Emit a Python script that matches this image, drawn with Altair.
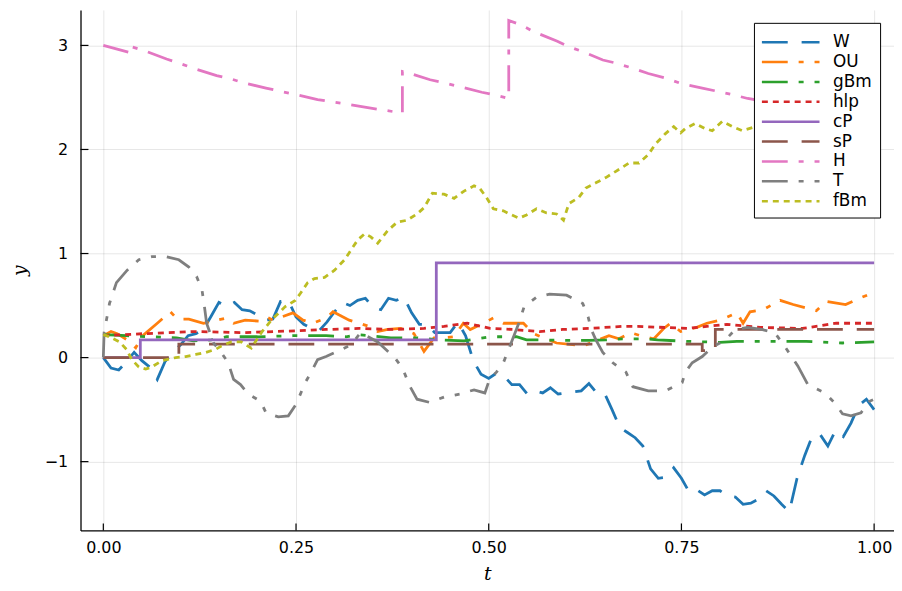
import altair as alt
import pandas as pd

# ---------------- data ----------------
W_t = [i / 100 for i in range(101)]
W_y = [0.0, -0.10, -0.12, -0.04, 0.05, -0.03, -0.09, -0.21, -0.04, 0.05,
       0.12, 0.21, 0.23, 0.27, 0.40, 0.53, 0.49, 0.53, 0.46, 0.45,
       0.41, 0.36, 0.37, 0.54, 0.55, 0.39, 0.32, 0.28, 0.26, 0.34,
       0.44, 0.53, 0.50, 0.55, 0.57, 0.48, 0.46, 0.57, 0.55, 0.58,
       0.43, 0.32, 0.32, 0.24, 0.24, 0.24, 0.34, 0.21, -0.03, -0.16,
       -0.20, -0.15, -0.18, -0.26, -0.26, -0.35, -0.32, -0.34, -0.29, -0.35,
       -0.34, -0.33, -0.32, -0.25, -0.34, -0.34, -0.50, -0.67, -0.72, -0.77,
       -0.85, -1.07, -1.16, -1.15, -1.06, -1.16, -1.29, -1.27, -1.32, -1.28,
       -1.28, -1.33, -1.34, -1.41, -1.40, -1.36, -1.28, -1.33, -1.41, -1.48,
       -1.16, -0.94, -0.75, -0.74, -0.85, -0.70, -0.76, -0.63, -0.46, -0.40,
       -0.50]

OU_t = [0, 0.01, 0.018, 0.031, 0.042, 0.051, 0.07, 0.087, 0.096, 0.111,
        0.13, 0.16, 0.169, 0.184, 0.203, 0.212, 0.22, 0.246, 0.259, 0.272,
        0.289, 0.298, 0.319, 0.332, 0.345, 0.356, 0.369, 0.386, 0.403, 0.416,
        0.429, 0.442, 0.455, 0.467, 0.476, 0.493, 0.506, 0.519, 0.545, 0.558,
        0.571, 0.588, 0.609, 0.622, 0.639, 0.656, 0.669, 0.684, 0.697, 0.714,
        0.727, 0.736, 0.749, 0.77, 0.783, 0.8, 0.822, 0.83, 0.839, 0.856,
        0.878, 0.895, 0.925, 0.938, 0.963, 0.981, 0.991, 1.0]
OU_y = [0.21, 0.25, 0.23, 0.17, 0.095, 0.21, 0.33, 0.44, 0.37, 0.37,
        0.33, 0.38, 0.33, 0.36, 0.35, 0.39, 0.36, 0.43, 0.36, 0.33,
        0.38, 0.44, 0.36, 0.33, 0.30, 0.25, 0.27, 0.28, 0.23, 0.06,
        0.19, 0.19, 0.20, 0.33, 0.27, 0.33, 0.38, 0.33, 0.33, 0.23,
        0.19, 0.14, 0.125, 0.11, 0.16, 0.21, 0.18, 0.24, 0.21, 0.18,
        0.28, 0.33, 0.25, 0.29, 0.33, 0.36, 0.43, 0.33, 0.44, 0.46,
        0.55, 0.51, 0.45, 0.54, 0.51, 0.57, 0.60, 0.58]

gBm_t = [0, 0.03, 0.06, 0.095, 0.117, 0.14, 0.16, 0.2, 0.246, 0.289,
         0.315, 0.33, 0.373, 0.407, 0.437, 0.468, 0.485, 0.502, 0.536, 0.549,
         0.571, 0.6, 0.63, 0.652, 0.674, 0.706, 0.719, 0.758, 0.8, 0.822,
         0.874, 0.912, 0.929, 0.959, 1.0]
gBm_y = [0.22, 0.21, 0.20, 0.19, 0.16, 0.17, 0.20, 0.20, 0.21, 0.21,
         0.20, 0.22, 0.19, 0.19, 0.17, 0.16, 0.18, 0.20, 0.20, 0.17,
         0.17, 0.165, 0.165, 0.17, 0.18, 0.18, 0.17, 0.156, 0.146, 0.156,
         0.156, 0.156, 0.15, 0.14, 0.15]

hlp_t = [0, 0.053, 0.117, 0.182, 0.224, 0.289, 0.332, 0.373, 0.416, 0.442,
         0.472, 0.502, 0.532, 0.566, 0.596, 0.63, 0.674, 0.693, 0.758, 0.809,
         0.852, 0.907, 0.951, 1.0]
hlp_y = [0.21, 0.23, 0.25, 0.24, 0.25, 0.27, 0.28, 0.27, 0.28, 0.30,
         0.33, 0.28, 0.27, 0.25, 0.27, 0.28, 0.30, 0.30, 0.28, 0.32,
         0.29, 0.28, 0.33, 0.33]

cP_t = [0, 0.048, 0.048, 0.432, 0.432, 1.0]
cP_y = [0, 0, 0.17, 0.17, 0.91, 0.91]

sP_t = [0, 0.098, 0.098, 0.777, 0.777, 0.794, 0.794, 1.0]
sP_y = [0, 0, 0.13, 0.13, 0.067, 0.067, 0.27, 0.27]

H_t = [0, 0.035, 0.035, 0.053, 0.082, 0.098, 0.117, 0.147, 0.165, 0.182,
       0.211, 0.229, 0.249, 0.278, 0.295, 0.313, 0.345, 0.362, 0.388, 0.388,
       0.394, 0.424, 0.442, 0.459, 0.491, 0.51, 0.526, 0.526, 0.541, 0.559,
       0.589, 0.603, 0.622, 0.648, 0.665, 0.687, 0.707, 0.732, 0.751, 0.777,
       0.796, 0.82, 0.836, 0.9, 0.95, 1.0]
H_y = [3.0, 2.93, 2.99, 2.95, 2.87, 2.83, 2.78, 2.71, 2.68, 2.64,
       2.59, 2.56, 2.53, 2.48, 2.46, 2.44, 2.40, 2.38, 2.35, 2.75,
       2.74, 2.67, 2.64, 2.61, 2.55, 2.52, 2.49, 3.24, 3.20, 3.13,
       3.04, 2.99, 2.94, 2.86, 2.83, 2.78, 2.73, 2.68, 2.63, 2.59,
       2.56, 2.52, 2.49, 2.41, 2.35, 2.30]

T_t = [0, 0.001, 0.008, 0.017, 0.031, 0.046, 0.063, 0.081, 0.098, 0.111,
       0.121, 0.128, 0.131, 0.134, 0.143, 0.152, 0.162, 0.169, 0.178, 0.188,
       0.204, 0.211, 0.227, 0.240, 0.250, 0.262, 0.269, 0.278, 0.289, 0.304,
       0.321, 0.334, 0.356, 0.378, 0.388, 0.398, 0.407, 0.423, 0.442, 0.463,
       0.481, 0.495, 0.501, 0.510, 0.519, 0.527, 0.539, 0.546, 0.562, 0.579,
       0.601, 0.622, 0.629, 0.633, 0.639, 0.648, 0.661, 0.678, 0.687, 0.707,
       0.729, 0.751, 0.755, 0.764, 0.777, 0.790, 0.807, 0.820, 0.836, 0.854,
       0.871, 0.881, 0.893, 0.901, 0.914, 0.936, 0.948, 0.959, 0.970, 0.983,
       0.994, 1.0]
T_y = [0, 0.24, 0.52, 0.72, 0.84, 0.94, 0.97, 0.97, 0.94, 0.87,
       0.78, 0.65, 0.50, 0.33, 0.14, 0.06, -0.05, -0.21, -0.26, -0.35,
       -0.42, -0.53, -0.57, -0.56, -0.45, -0.24, -0.15, -0.02, 0.01, 0.06,
       0.12, 0.24, 0.15, 0.0, -0.10, -0.28, -0.40, -0.43, -0.38, -0.35,
       -0.31, -0.34, -0.21, -0.14, -0.05, 0.10, 0.33, 0.49, 0.58, 0.61,
       0.60, 0.52, 0.39, 0.27, 0.17, 0.05, -0.05, -0.14, -0.28, -0.32,
       -0.32, -0.24, -0.14, -0.05, 0.01, 0.10, 0.17, 0.27, 0.29, 0.27,
       0.24, 0.14, 0.01, -0.08, -0.26, -0.34, -0.43, -0.54, -0.56, -0.53,
       -0.42, -0.40]

fBm_t = [0, 0.008, 0.021, 0.030, 0.037, 0.046, 0.055, 0.063, 0.076, 0.094,
         0.107, 0.120, 0.133, 0.146, 0.153, 0.166, 0.179, 0.192, 0.205, 0.218,
         0.236, 0.249, 0.256, 0.265, 0.274, 0.287, 0.300, 0.313, 0.321, 0.330,
         0.339, 0.347, 0.356, 0.369, 0.381, 0.394, 0.407, 0.416, 0.427, 0.442,
         0.455, 0.468, 0.481, 0.488, 0.497, 0.506, 0.519, 0.527, 0.539, 0.549,
         0.562, 0.575, 0.588, 0.597, 0.604, 0.617, 0.626, 0.639, 0.652, 0.665,
         0.682, 0.695, 0.707, 0.716, 0.729, 0.740, 0.749, 0.755, 0.768, 0.781,
         0.790, 0.803, 0.816, 0.829, 0.86, 0.9, 0.95, 1.0]
fBm_y = [0.22, 0.20, 0.15, 0.08, -0.02, -0.09, -0.11, -0.09, -0.03, 0.0,
         0.01, 0.03, 0.05, 0.08, 0.11, 0.15, 0.15, 0.09, 0.24, 0.36,
         0.49, 0.55, 0.62, 0.72, 0.76, 0.77, 0.84, 0.94, 1.03, 1.13,
         1.19, 1.16, 1.10, 1.22, 1.30, 1.32, 1.38, 1.44, 1.58, 1.57,
         1.53, 1.60, 1.65, 1.63, 1.54, 1.43, 1.41, 1.38, 1.34, 1.37,
         1.43, 1.39, 1.38, 1.32, 1.48, 1.54, 1.63, 1.68, 1.73, 1.79,
         1.87, 1.87, 1.95, 2.05, 2.15, 2.22, 2.16, 2.20, 2.25, 2.20,
         2.18, 2.27, 2.22, 2.18, 2.25, 2.32, 2.28, 2.35]

names = ["W", "OU", "gBm", "hlp", "cP", "sP", "H", "T", "fBm"]
colors = ["#1f77b4", "#ff7f0e", "#2ca02c", "#d62728", "#9467bd",
          "#8c564b", "#e377c2", "#7f7f7f", "#bcbd22"]
dashes = [[26, 14], [26, 11, 5, 11], [26, 11, 5, 11, 5, 11], [6, 5], [1, 0],
          [26, 14], [26, 11, 5, 11], [26, 11, 5, 11, 5, 11], [6, 5]]

x_ticks = [0, 0.25, 0.5, 0.75, 1.0]
y_ticks = [-1, 0, 1, 2, 3]

series = [("W", W_t, W_y), ("OU", OU_t, OU_y), ("gBm", gBm_t, gBm_y),
          ("hlp", hlp_t, hlp_y), ("cP", cP_t, cP_y), ("sP", sP_t, sP_y),
          ("H", H_t, H_y), ("T", T_t, T_y), ("fBm", fBm_t, fBm_y)]

rows = []
for name, ts, ys in series:
    for i, (t, y) in enumerate(zip(ts, ys)):
        rows.append({"series": name, "t": t, "y": y, "i": i})
df = pd.DataFrame(rows)

W_PLOT, H_PLOT = 819, 524

xscale = alt.Scale(domain=[-0.0296, 1.0258], nice=False, zero=False)
yscale = alt.Scale(domain=[-1.661, 3.341], nice=False, zero=False)

common_axis = dict(
    ticks=False, tickSize=0, grid=True, gridColor="black", gridOpacity=0.1,
    gridWidth=1, domainColor="black", domainWidth=1.3,
    labelFont="DejaVu Sans", labelFontSize=16, labelColor="black",
    titleFont="DejaVu Serif", titleFontStyle="italic", titleFontWeight="normal",
    titleFontSize=19, titleColor="black",
)

legend = alt.Legend(
    title=None, orient="none", legendX=678, legendY=13,
    symbolType="M-2.9,0L2.9,0", symbolSize=400, symbolStrokeWidth=2.5,
    symbolOffset=17.5,
    labelFont="DejaVu Sans", labelFontSize=17, labelColor="black",
    labelOffset=31, padding=8, rowPadding=0,
    fillColor="white", strokeColor="black", cornerRadius=0,
)

lines = alt.Chart(df).mark_line(strokeWidth=2.8, strokeCap="butt").encode(
    x=alt.X("t:Q", scale=xscale,
            axis=alt.Axis(values=x_ticks, format=".2f", title="t",
                          labelPadding=9, titlePadding=9, **common_axis)),
    y=alt.Y("y:Q", scale=yscale,
            axis=alt.Axis(values=y_ticks, format="d", title="y",
                          labelPadding=13, titlePadding=15, **common_axis)),
    color=alt.Color("series:N", scale=alt.Scale(domain=names, range=colors),
                    legend=legend),
    strokeDash=alt.StrokeDash("series:N",
                              scale=alt.Scale(domain=names, range=dashes),
                              legend=legend),
    order=alt.Order("i:Q"),
)

xt = pd.DataFrame({"t": x_ticks})
yt = pd.DataFrame({"y": y_ticks})

xtick_marks = alt.Chart(xt).mark_rule(color="black", strokeWidth=1.2).encode(
    x=alt.X("t:Q", scale=xscale),
    y=alt.value(H_PLOT - 7), y2=alt.value(H_PLOT),
)
ytick_marks = alt.Chart(yt).mark_rule(color="black", strokeWidth=1.2).encode(
    y=alt.Y("y:Q", scale=yscale),
    x=alt.value(0), x2=alt.value(8),
)

chart = alt.layer(lines, xtick_marks, ytick_marks).properties(
    width=W_PLOT, height=H_PLOT,
    padding={"left": 73, "top": 0, "right": 0, "bottom": 51},
    autosize=alt.AutoSizeParams(type="none"),
    background="white",
).configure_view(stroke=None)

chart.save("out.html", embed_options={"renderer": "svg", "actions": False})
